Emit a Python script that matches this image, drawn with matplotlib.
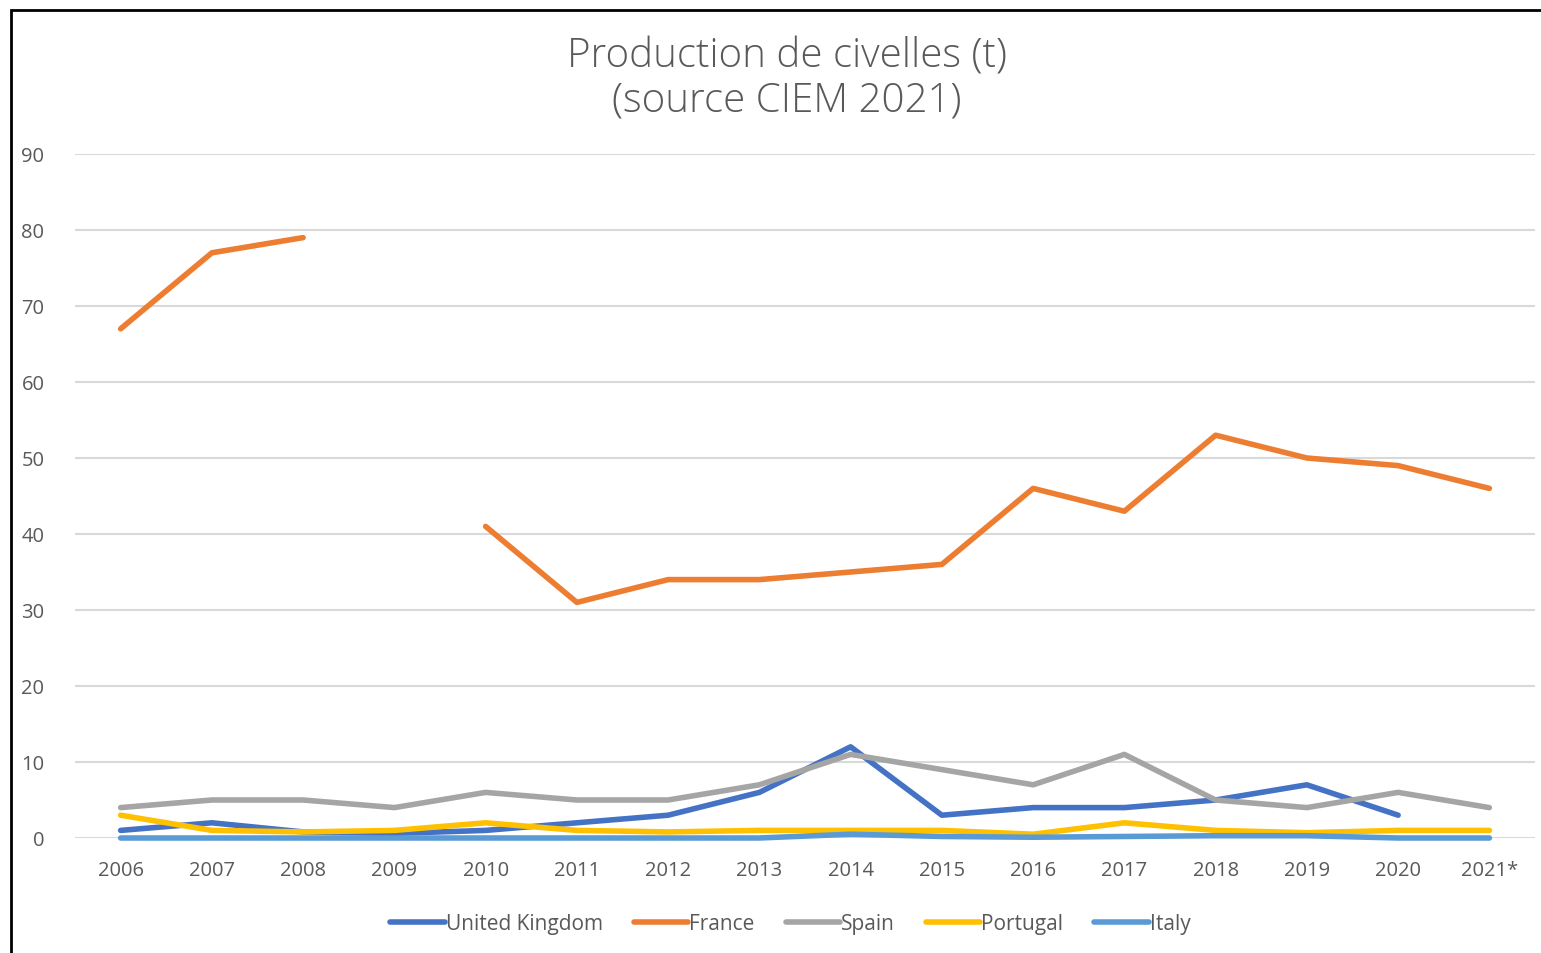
import numpy as np
import matplotlib.pyplot as plt
from matplotlib.patches import Rectangle

# Data
years = ['2006', '2007', '2008', '2009', '2010', '2011', '2012', '2013',
         '2014', '2015', '2016', '2017', '2018', '2019', '2020', '2021*']
uk       = [1, 2, 0.8, 0.6, 1, 2, 3, 6, 12, 3, 4, 4, 5, 7, 3, np.nan]
france   = [67, 77, 79, np.nan, 41, 31, 34, 34, 35, 36, 46, 43, 53, 50, 49, 46]
spain    = [4, 5, 5, 4, 6, 5, 5, 7, 11, 9, 7, 11, 5, 4, 6, 4]
portugal = [3, 1, 0.8, 1, 2, 1, 0.8, 1, 1, 1, 0.5, 2, 1, 0.7, 1, 1]
italy    = [0, 0, 0, 0, 0, 0, 0, 0, 0.5, 0.2, 0.1, 0.2, 0.3, 0.3, 0, 0]

series = [
    ('United Kingdom', uk,       '#4472C4'),
    ('France',         france,   '#ED7D31'),
    ('Spain',          spain,    '#A5A5A5'),
    ('Portugal',       portugal, '#FFC000'),
    ('Italy',          italy,    '#5B9BD5'),
]

plt.rcParams['font.family'] = ['Open Sans', 'DejaVu Sans']
txt_col = '#595959'

W, H = 1541, 954
fig = plt.figure(figsize=(W / 100, H / 100), dpi=100)

# outer frame (cropped on right and bottom)
fig.patches.append(Rectangle((11 / W, -0.05), 1.1, 1 - 11 / H + 0.05,
                             transform=fig.transFigure, fill=False,
                             edgecolor='black', linewidth=2))

ax = fig.add_axes([75 / W, (H - 839) / H, (1535 - 75) / W, (839 - 155) / H])
x = np.arange(len(years))
for name, vals, col in series:
    ax.plot(x, vals, color=col, linewidth=4, label=name, clip_on=False,
            solid_capstyle='round', solid_joinstyle='round')

ax.set_xlim(-0.5, len(years) - 0.5)
ax.set_ylim(0, 90)
ax.set_yticks(range(0, 91, 10))
ax.set_xticks(x)
ax.set_xticklabels(years)
ax.grid(axis='y', color='#d9d9d9', linewidth=1.5)
ax.set_axisbelow(True)
for s in ax.spines.values():
    s.set_visible(False)
ax.tick_params(axis='both', length=0, labelsize=14.5, labelcolor=txt_col)
ax.tick_params(axis='y', pad=22)
ax.tick_params(axis='x', pad=16)

fig.text(787 / W, 1 - 79 / H, 'Production de civelles (t)\n(source CIEM 2021)',
         ha='center', va='center', fontsize=29, color=txt_col,
         linespacing=1.1, fontweight='light')

ax.legend(loc='center', bbox_to_anchor=(0.49, (839 - 925) / (839 - 155)),
          ncol=5, frameon=False, fontsize=15, handlelength=2.6,
          handletextpad=0.05, columnspacing=1.5, labelcolor=txt_col)

fig.savefig('out.png', dpi=100)
